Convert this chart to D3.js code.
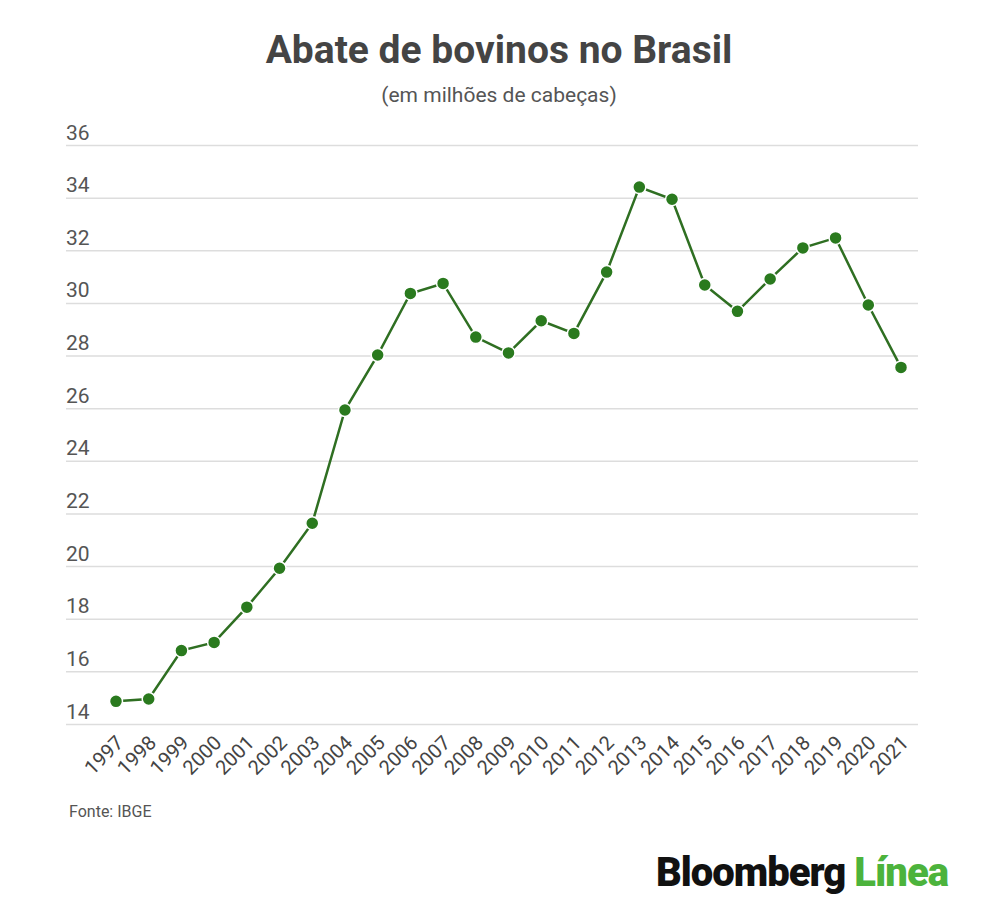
<!DOCTYPE html>
<html>
<head>
<meta charset="utf-8">
<script src="https://cdn.jsdelivr.net/npm/d3@7"></script>
<style>
  body { margin: 0; background: #fff; }
  svg { display: block; font-family: Roboto, "Noto Sans", sans-serif; }
</style>
</head>
<body>
<div id="chart"></div>
<script>
// anos e abate (milhões de cabeças)
var years = ['1997','1998','1999','2000','2001','2002','2003','2004','2005','2006','2007','2008',
  '2009','2010','2011','2012','2013','2014','2015','2016','2017','2018','2019','2020','2021'];
var abate = [14.86, 14.95, 16.79, 17.1, 18.44, 19.92, 21.63, 25.93, 28.02, 30.36, 30.74, 28.7,
  28.1, 29.32, 28.84, 31.17, 34.4, 33.94, 30.68, 29.68, 30.91, 32.09, 32.47, 29.92, 27.55];
var yTicks = [14, 16, 18, 20, 22, 24, 26, 28, 30, 32, 34, 36];

var width = 1000, height = 922;
var svg = d3.select('#chart').append('svg')
  .attr('width', width)
  .attr('height', height);

var x = d3.scalePoint().domain(years).range([116, 901]);
var y = d3.scaleLinear().domain([14, 36]).range([724, 145]);

svg.append('text')
  .attr('x', 499).attr('y', 63)
  .attr('text-anchor', 'middle')
  .attr('font-size', 39).attr('font-weight', 700)
  .attr('fill', '#444')
  .text('Abate de bovinos no Brasil');

svg.append('text')
  .attr('x', 499).attr('y', 102)
  .attr('text-anchor', 'middle')
  .attr('font-size', 21)
  .attr('fill', '#555')
  .text('(em milhões de cabeças)');

// grade + rótulos do eixo y
var yAxis = svg.append('g')
  .attr('transform', 'translate(66,0)')
  .call(d3.axisRight(y).tickValues(yTicks).tickSize(852).tickFormat(d3.format('d')));
yAxis.select('.domain').remove();
yAxis.selectAll('.tick line').attr('stroke', '#ddd').attr('stroke-width', 1.5);
yAxis.selectAll('.tick text')
  .attr('x', 0).attr('dy', -6)
  .attr('text-anchor', 'start')
  .attr('font-size', 21).attr('font-family', 'Roboto')
  .attr('fill', '#555');

// eixo x
var xAxis = svg.append('g')
  .attr('transform', 'translate(0,728)')
  .call(d3.axisBottom(x).tickSize(0));
xAxis.select('.domain').remove();
xAxis.selectAll('.tick text')
  .attr('font-size', 20).attr('font-family', 'Roboto')
  .attr('fill', '#444')
  .attr('text-anchor', 'end')
  .attr('dy', 0)
  .attr('transform', 'translate(6,14) rotate(-45)');

var line = d3.line()
  .x(function (d, i) { return x(years[i]); })
  .y(function (d) { return y(d); });

svg.append('path')
  .datum(abate)
  .attr('d', line)
  .attr('fill', 'none')
  .attr('stroke', '#2f6f22')
  .attr('stroke-width', 2.5);

svg.selectAll('circle')
  .data(abate)
  .enter()
  .append('circle')
  .attr('cx', function (d, i) { return x(years[i]); })
  .attr('cy', function (d) { return y(d); })
  .attr('r', 6.5)
  .attr('fill', '#2a7a1e')
  .attr('stroke', '#fff')
  .attr('stroke-width', 1.5);

svg.append('text')
  .attr('x', 69).attr('y', 817)
  .attr('font-size', 16)
  .attr('fill', '#555')
  .text('Fonte: IBGE');

var logo = svg.append('text')
  .attr('x', 948).attr('y', 886)
  .attr('text-anchor', 'end')
  .attr('font-size', 40).attr('font-weight', 900)
  .attr('letter-spacing', -1);
logo.append('tspan').attr('fill', '#111').text('Bloomberg ');
logo.append('tspan').attr('fill', '#4cb33c').text('Línea');
</script>
</body>
</html>
